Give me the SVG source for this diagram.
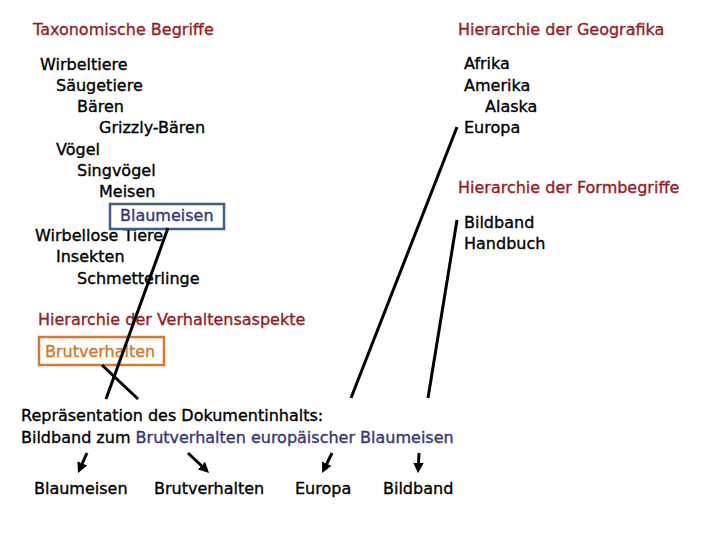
<svg xmlns="http://www.w3.org/2000/svg" width="720" height="540" viewBox="0 0 720 540">
<style>
text{font-family:"DejaVu Sans","Liberation Sans",sans-serif;font-size:16px;fill:#000;stroke:#000;stroke-width:0.35}
.h{fill:#961b1f;stroke:#961b1f}
.b{fill:#35367a;stroke:#35367a}
.o{fill:#d07a2c;stroke:#d07a2c}
.ln{stroke:#000;stroke-width:3;fill:none}
.ar{stroke:#000;stroke-width:3;fill:none;marker-end:url(#ah)}
</style>
<defs>
<marker id="ah" viewBox="0 0 10 10" refX="6" refY="5" markerWidth="3.5" markerHeight="3.5" orient="auto" markerUnits="strokeWidth">
<path d="M0,0 L10,5 L0,10 z" fill="#000"/>
</marker>
</defs>
<rect width="720" height="540" fill="#fff"/>
<g id="taxonomie">
<text class="h" x="33" y="35">Taxonomische Begriffe</text>
<text x="40" y="70">Wirbeltiere</text>
<text x="56" y="91">Säugetiere</text>
<text x="77" y="112">Bären</text>
<text x="99" y="133">Grizzly-Bären</text>
<text x="56" y="155">Vögel</text>
<text x="77" y="176">Singvögel</text>
<text x="99" y="197">Meisen</text>
<text x="35" y="241">Wirbellose Tiere</text>
<text x="56" y="262">Insekten</text>
<text x="77" y="284">Schmetterlinge</text>
</g>
<g id="blaumeisen-box">
<rect x="110" y="204" width="114" height="25" fill="none" stroke="#3e5f8a" stroke-width="2.5"/>
<text class="b" x="120" y="221">Blaumeisen</text>
</g>
<g id="geografika">
<text class="h" x="458" y="35">Hierarchie der Geografika</text>
<text x="464" y="69">Afrika</text>
<text x="464" y="91">Amerika</text>
<text x="485" y="112">Alaska</text>
<text x="464" y="133">Europa</text>
</g>
<g id="formbegriffe">
<text class="h" x="458" y="193">Hierarchie der Formbegriffe</text>
<text x="464" y="228">Bildband</text>
<text x="464" y="249">Handbuch</text>
</g>
<g id="verhalten">
<text class="h" x="38" y="325">Hierarchie der Verhaltensaspekte</text>
<rect x="39" y="337" width="125" height="28" fill="none" stroke="#d9792a" stroke-width="2.5"/>
<text class="o" x="45" y="357">Brutverhalten</text>
</g>
<g id="repraesentation">
<text x="21" y="421">Repräsentation des Dokumentinhalts:</text>
<text x="21" y="443">Bildband zum <tspan class="b">Brutverhalten europäischer Blaumeisen</tspan></text>
</g>
<g id="ergebnis">
<text x="34" y="494">Blaumeisen</text>
<text x="154" y="494">Brutverhalten</text>
<text x="295" y="494">Europa</text>
<text x="383" y="494">Bildband</text>
</g>
<g id="connectors">
<line class="ln" x1="168" y1="228" x2="106" y2="399"/>
<line class="ln" x1="102" y1="365" x2="138" y2="399"/>
<line class="ln" x1="457" y1="127" x2="351" y2="398"/>
<line class="ln" x1="457" y1="220" x2="428" y2="398"/>
<line class="ar" x1="87" y1="453" x2="79.7" y2="469.2"/>
<line class="ar" x1="188" y1="453" x2="206" y2="470"/>
<line class="ar" x1="332" y1="453" x2="324" y2="469.3"/>
<line class="ar" x1="419" y1="453" x2="418.2" y2="469"/>
</g>
</svg>
